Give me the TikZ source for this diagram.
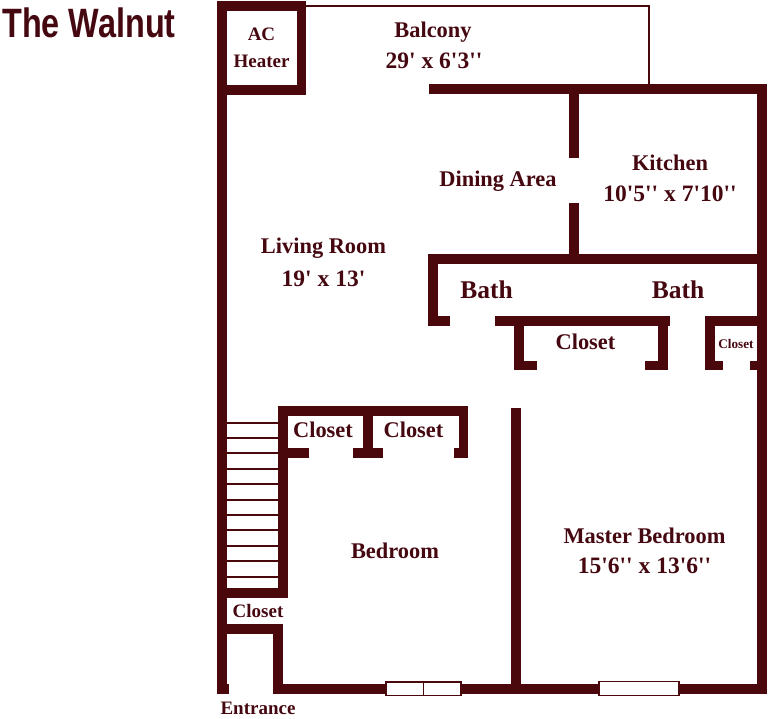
\documentclass[tikz,border=0pt]{standalone}
\usepackage{fontspec}
\setmainfont{Liberation Serif}
\setsansfont{Liberation Sans}
\definecolor{wallc}{HTML}{4A080C}
\definecolor{textc}{HTML}{450810}
\newcommand{\wall}[4]{\fill[wallc] (#1,#2) rectangle (#3,#4);}
\newcommand{\ft}{\textquotesingle}
\tikzset{
  lbl/.style={text=textc,font=\bfseries\fontsize{22.4}{26}\selectfont,inner sep=0pt,anchor=base},
  lblL/.style={lbl,font=\bfseries\fontsize{23.5}{26}\selectfont},
  lblS/.style={lbl,font=\bfseries\fontsize{19}{22}\selectfont},
  lblB/.style={lbl,font=\bfseries\fontsize{25.5}{30}\selectfont},
  lblT/.style={lbl,font=\bfseries\fontsize{13.2}{15}\selectfont},
  thinl/.style={draw=wallc,line width=1.7pt},
  winbox/.style={draw=wallc,line width=1.8pt,fill=white}
}
\begin{document}
\begin{tikzpicture}[x=1pt,y=-1pt]
\useasboundingbox (0,0) rectangle (768,718);
% balcony
\draw[thinl,line width=2pt] (306,5.5) -- (649,5.5) -- (649,85);
% steps
\foreach \y in {423,438.3,453.3,469,484.3,499.7,515,530.3,545.7,561,576.7}
  \draw[thinl] (226,\y) -- (279,\y);
% outer walls
\wall{217}{1}{227}{693.7}
\wall{217}{1}{306}{11}
\wall{297}{1}{306}{95}
\wall{217}{85}{306}{95}
\wall{429}{84.3}{767}{94.3}
\wall{757}{84.3}{767}{693.5}
\wall{273.3}{683.5}{767}{693.5}
% kitchen
\wall{568.7}{90}{578.7}{158}
\wall{568.7}{202.7}{578.7}{258}
\wall{428}{254}{760}{264}
% bath
\wall{428}{254}{437.5}{326}
\wall{428}{316}{450}{326}
\wall{494.7}{316}{670}{326}
\wall{514.3}{320}{524.3}{370.3}
\wall{514.3}{360.7}{536.7}{370.3}
\wall{658.3}{320}{668.3}{370.3}
\wall{645}{360.7}{668.3}{370.3}
\wall{705.3}{316}{760}{325.5}
\wall{705.3}{316}{715.3}{370.3}
\wall{705.3}{360.7}{722.7}{370.3}
\wall{750}{360.7}{760}{370.3}
% bedroom closets
\wall{278.3}{406}{468.3}{416}
\wall{278.3}{406}{288.3}{597.7}
\wall{222}{588.3}{288.3}{597.7}
\wall{288}{448.3}{309.3}{458.3}
\wall{363.3}{410}{373.3}{458.3}
\wall{352.7}{448.3}{382.7}{458.3}
\wall{459}{410}{468.3}{458.3}
\wall{454.3}{448.3}{468.3}{458.3}
% entrance
\wall{222}{624.3}{282.7}{633.7}
\wall{273.3}{624.3}{282.7}{693.5}
\wall{217}{684}{228.7}{693.7}
% master
\wall{510.7}{407.7}{520.7}{688}
% windows
\draw[winbox] (386,681.7) rectangle (461.3,695.5);
\draw[thinl,line width=1.2pt] (423.3,681.7) -- (423.3,695.5);
\draw[winbox] (599,681.5) rectangle (678.7,695.5);
% labels
\node[text=textc,inner sep=0pt,anchor=base] (title) at (89,37.5) {\sffamily\bfseries\fontsize{41}{44}\selectfont\scalebox{0.79}[1]{The Walnut}};
\node[lblS] (ac) at (261.5,40.7) {AC};
\node[lblS] (heater) at (261.5,67.3) {Heater};
\node[lbl] (balcony) at (433,37) {Balcony};
\node[lblL] (bsize) at (434,68) {29\ft{} x 6\ft3\ft\ft};
\node[lbl] (dining) at (498,186.7) {Dining Area};
\node[lbl] (kitchen) at (670,170) {Kitchen};
\node[lblL] (ksize) at (670,201.7) {10\ft5\ft\ft{} x 7\ft10\ft\ft};
\node[lbl] (living) at (323.5,253) {Living Room};
\node[lblL] (lsize) at (323.5,286) {19\ft{} x 13\ft};
\node[lblB] (bath1) at (486.5,298.3) {Bath};
\node[lblB] (bath2) at (678,298.3) {Bath};
\node[lbl] (c1) at (585.5,349.3) {Closet};
\node[lblT] (c2) at (736,348) {Closet};
\node[lbl] (c3) at (323,437.7) {Closet};
\node[lbl] (c4) at (413.5,437.7) {Closet};
\node[lbl] (bed) at (395,558.3) {Bedroom};
\node[lbl] (master) at (644.5,543) {Master Bedroom};
\node[lblL] (msize) at (644.5,573) {15\ft6\ft\ft{} x 13\ft6\ft\ft};
\node[lblS] (c5) at (258,617.7) {Closet};
\node[lblS] (ent) at (258,714) {Entrance};
\end{tikzpicture}
\end{document}
